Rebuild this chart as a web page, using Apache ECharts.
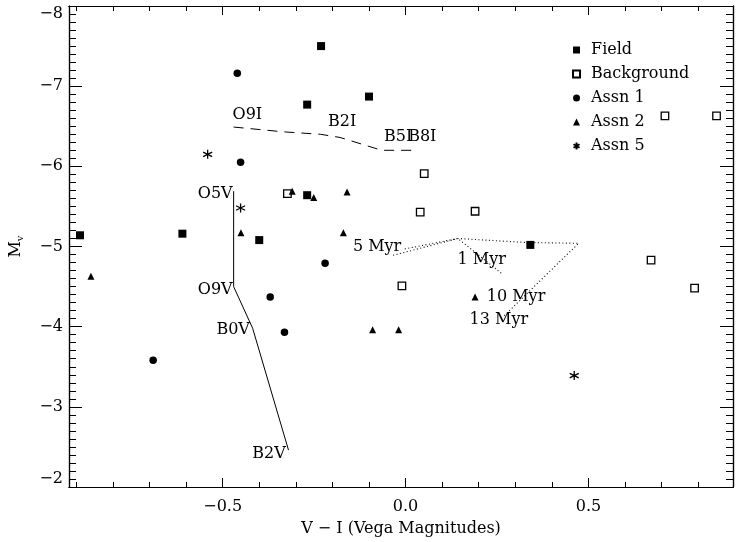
<!DOCTYPE html>
<html>
<head>
<meta charset="utf-8">
<script src="https://cdn.jsdelivr.net/npm/echarts@6/dist/echarts.min.js"></script>
<style>html,body{margin:0;padding:0;background:#fff}#c{width:736px;height:542px}</style>
</head>
<body>
<div id="c"></div>
<script>
// ---- data (V-I, M_V) ----
const fieldData = [[-0.890,-5.14],[-0.610,-5.16],[-0.400,-5.08],[-0.231,-7.50],[-0.269,-6.77],[-0.269,-5.64],[-0.100,-6.87],[0.341,-5.02]];
const backgroundData = [[-0.323,-5.66],[0.051,-5.91],[0.040,-5.43],[0.190,-5.44],[0.709,-6.63],[0.850,-6.63],[0.671,-4.83],[-0.010,-4.51],[0.790,-4.48]];
const assn1Data = [[-0.460,-7.16],[-0.451,-6.05],[-0.220,-4.79],[-0.370,-4.37],[-0.331,-3.93],[-0.690,-3.58]];
const assn2Data = [[-0.860,-4.63],[-0.450,-5.17],[-0.310,-5.69],[-0.251,-5.61],[-0.160,-5.68],[-0.170,-5.17],[-0.090,-3.96],[-0.019,-3.96],[0.190,-4.37]];
const assn5Data = [[-0.541,-6.15],[-0.451,-5.48],[0.461,-3.39]];

const mainSeqLine = [[-0.470,-5.69],[-0.470,-4.50],[-0.418,-3.98],[-0.320,-2.46]];
const supergiantLine = [[-0.470,-6.49],[-0.333,-6.43],[-0.233,-6.40],[-0.179,-6.36],[-0.065,-6.20],[0.021,-6.20]];
const isoTrackA = [[-0.034,-4.89],[0.143,-5.10],[0.330,-5.05],[0.473,-5.04],[0.266,-4.12]];
const isoTrackB = [[-0.002,-4.97],[0.143,-5.10],[0.266,-4.65]];

const annotationTexts = ['O9I','B2I','B5I','B8I','O5V','O9V','B0V','B2V','5 Myr','1 Myr','10 Myr','13 Myr'];
const annotationX = [-0.473,-0.212,-0.059,0.007,-0.568,-0.568,-0.517,-0.419,-0.144,0.142,0.222,0.175];
const annotationY = [-6.64,-6.55,-6.37,-6.37,-5.655,-4.457,-3.958,-2.412,-4.994,-4.832,-4.370,-4.083];

const legendNames = ['Field','Background','Assn 1','Assn 2','Assn 5'];

const xRange = [-0.92, 0.895];
const yRange = [-8, -2];
const xMajorTicks = [-0.5, 0, 0.5];
const xMinorTicks = [-0.9,-0.8,-0.7,-0.6,-0.5,-0.4,-0.3,-0.2,-0.1,0,0.1,0.2,0.3,0.4,0.5,0.6,0.7,0.8];
const yMajorTicks = [-8,-7,-6,-5,-4,-3,-2];
const yMinorTicks = [-7.9,-7.8,-7.7,-7.6,-7.5,-7.4,-7.3,-7.2,-7.1,-7,-6.9,-6.8,-6.7,-6.6,-6.5,-6.4,-6.3,-6.2,-6.1,-6,
  -5.9,-5.8,-5.7,-5.6,-5.5,-5.4,-5.3,-5.2,-5.1,-5,-4.9,-4.8,-4.7,-4.6,-4.5,-4.4,-4.3,-4.2,-4.1,-4,
  -3.9,-3.8,-3.7,-3.6,-3.5,-3.4,-3.3,-3.2,-3.1,-3,-2.9,-2.8,-2.7,-2.6,-2.5,-2.4,-2.3,-2.2,-2.1];

// ---- styling ----
const FONT = 'DejaVu Serif';
const INK = '#000';
const lineSty = {color: INK, width: 1.2};
const minus = s => s.replace('-', '\u2212');

function xAx(pos, ticks, len, labels, extra) {
  return Object.assign({
    type: 'value', min: xRange[0], max: xRange[1], position: pos,
    axisLine: {show: true, onZero: false, lineStyle: lineSty},
    axisTick: {show: true, inside: true, length: len, customValues: ticks, lineStyle: {color: INK, width: 1}},
    axisLabel: labels ? {show: true, customValues: xMajorTicks, margin: 12, color: INK, fontFamily: FONT, fontSize: 16,
      formatter: v => minus(Number(v).toFixed(1))} : {show: false},
    splitLine: {show: false}
  }, extra || {});
}
function yAx(pos, ticks, len, labels, extra) {
  return Object.assign({
    type: 'value', min: yRange[0], max: yRange[1], inverse: true, position: pos,
    axisLine: {show: true, onZero: false, lineStyle: lineSty},
    axisTick: {show: true, inside: true, length: len, customValues: ticks, lineStyle: {color: INK, width: 1}},
    axisLabel: labels ? {show: true, customValues: yMajorTicks, margin: 6, color: INK, fontFamily: FONT, fontSize: 16,
      verticalAlignMinLabel: 'top', verticalAlignMaxLabel: 'bottom',
      formatter: v => minus(String(Math.round(v)))} : {show: false},
    splitLine: {show: false}
  }, extra || {});
}

const ptSize = 8;
const asteriskPath = 'path://M5,0L5,10M0.67,2.5L9.33,7.5M0.67,7.5L9.33,2.5';

const option = {
  backgroundColor: '#fff',
  animation: false,
  textStyle: {fontFamily: FONT, color: INK},
  grid: {left: 68, right: 3, top: 6, bottom: 55, containLabel: false},
  xAxis: [
    xAx('bottom', xMinorTicks, 5, false, {name: 'V \u2212 I (Vega Magnitudes)', nameLocation: 'middle', nameGap: 34,
      nameTextStyle: {fontFamily: FONT, fontSize: 16, color: INK}}),
    xAx('bottom', xMajorTicks, 9, true),
    xAx('top', xMinorTicks, 5, false),
    xAx('top', xMajorTicks, 9, false)
  ],
  yAxis: [
    yAx('left', yMinorTicks, 7, false, {name: '{a|M}{b|v}', nameLocation: 'middle', nameGap: 44, nameRotate: 90,
      nameTextStyle: {rich: {a: {fontFamily: FONT, fontSize: 16, color: INK, lineHeight: 18},
        b: {fontFamily: FONT, fontSize: 10, color: INK, verticalAlign: 'bottom', lineHeight: 18, padding: [6, 0, 0, 0]}}}}),
    yAx('left', yMajorTicks, 13, true),
    yAx('right', yMinorTicks, 7, false),
    yAx('right', yMajorTicks, 13, false)
  ],
  legend: {
    data: legendNames, orient: 'vertical', left: 566, top: 37,
    itemWidth: 7, itemHeight: 7, itemGap: 8,
    textStyle: {fontFamily: FONT, fontSize: 16, color: INK, padding: [0, 0, 0, 6]},
    selectedMode: false
  },
  series: [
    {name: 'mainSeq', type: 'line', data: mainSeqLine, symbol: 'none', silent: true,
      lineStyle: {color: INK, width: 1}},
    {name: 'supergiant', type: 'line', data: supergiantLine, symbol: 'none', silent: true, smooth: false,
      lineStyle: {color: INK, width: 1, type: [10, 7]}},
    {name: 'isoA', type: 'line', data: isoTrackA, symbol: 'none', silent: true,
      lineStyle: {color: INK, width: 1.1, type: [1, 2.5]}},
    {name: 'isoB', type: 'line', data: isoTrackB, symbol: 'none', silent: true,
      lineStyle: {color: INK, width: 1.1, type: [1, 2.5]}},
    {name: 'Field', type: 'scatter', data: fieldData, symbol: 'rect', symbolSize: ptSize,
      itemStyle: {color: INK, opacity: 1}},
    {name: 'Background', type: 'scatter', data: backgroundData, symbol: 'rect', symbolSize: ptSize - 0.5,
      itemStyle: {color: '#fff', borderColor: INK, borderWidth: 1.3, opacity: 1}},
    {name: 'Assn 1', type: 'scatter', data: assn1Data, symbol: 'circle', symbolSize: ptSize - 0.5,
      itemStyle: {color: INK, opacity: 1}},
    {name: 'Assn 2', type: 'scatter', data: assn2Data, symbol: 'triangle', symbolSize: ptSize - 1,
      itemStyle: {color: INK, opacity: 1}},
    {name: 'Assn 5', type: 'scatter', data: assn5Data, symbol: asteriskPath, symbolSize: ptSize + 1,
      itemStyle: {color: 'none', borderColor: INK, borderWidth: 1.3, opacity: 1}},
    {name: 'annotations', type: 'scatter', symbol: 'circle', symbolSize: 1, silent: true,
      itemStyle: {color: 'rgba(255,255,255,0)', opacity: 1},
      data: annotationTexts.map((t, i) => ({value: [annotationX[i], annotationY[i]], name: t})),
      label: {show: true, position: [0.5, 0.5], align: 'left', verticalAlign: 'middle', formatter: p => p.name,
        fontFamily: FONT, fontSize: 16, color: INK, opacity: 1, textBorderWidth: 0}}
  ]
};

const chart = echarts.init(document.getElementById('c'), null, {renderer: 'canvas'});
chart.setOption(option);
</script>
</body>
</html>
